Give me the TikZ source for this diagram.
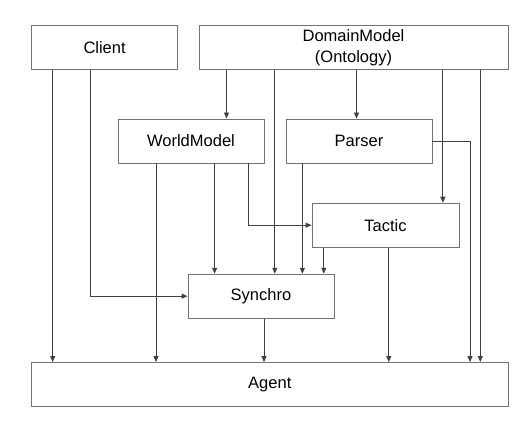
\documentclass[tikz,border=0pt]{standalone}
\usepackage{fontspec}
\setmainfont{Liberation Sans}
\usetikzlibrary{arrows.meta}
\begin{document}
\begin{tikzpicture}[x=1pt,y=-1pt,
  box/.style={draw=black!55,line width=0.9pt,fill=white,rectangle,inner sep=0pt,
    minimum height=44pt,align=center,font=\fontsize{16.5}{20.5}\selectfont},
  conn/.style={draw=black!75,line width=0.9pt,-{Triangle[length=6pt,width=5pt]}},
  plain/.style={draw=black!75,line width=0.9pt}]
\useasboundingbox (0,0) rectangle (530,422);
\node[box,minimum width=146pt] (client) at (104.6,47.6) {Client};
\node[box,minimum width=309pt] (domain) at (353.5,47.6) {DomainModel\\(Ontology)};
\node[box,minimum width=146pt] (world) at (191,141) {WorldModel};
\node[box,minimum width=146pt] (parser) at (359,141) {Parser};
\node[box,minimum width=147pt] (tactic) at (385.5,225.2) {Tactic};
\node[box,minimum width=146pt] (synchro) at (261,296.2) {Synchro};
\node[box,minimum width=476.4pt] (agent) at (269.8,384.5) {Agent};
% Client
\draw[conn] (client.south -| 52.7,0) -- (agent.north -| 52.7,0);
\draw[conn] (client.south -| 90.8,0) |- (synchro.west);
% DomainModel
\draw[conn] (domain.south -| 226.5,0) -- (world.north -| 226.5,0);
\draw[conn] (domain.south -| 274.8,0) -- (synchro.north -| 274.8,0);
\draw[conn] (domain.south -| 356.5,0) -- (parser.north -| 356.5,0);
\draw[conn] (domain.south -| 442.9,0) -- (tactic.north -| 442.9,0);
\draw[conn] (domain.south -| 480.3,0) -- (agent.north -| 480.3,0);
% Parser
\draw[conn] (parser.east) -| (agent.north -| 470,0);
\draw[conn] (parser.south -| 302.4,0) -- (synchro.north -| 302.4,0);
% WorldModel
\draw[conn] (world.south -| 156,0) -- (agent.north -| 156,0);
\draw[conn] (world.south -| 214.6,0) -- (synchro.north -| 214.6,0);
\draw[conn] (world.south -| 248,0) |- (tactic.west);
% Tactic
\draw[conn] (tactic.south -| 323.8,0) -- (synchro.north -| 323.8,0);
\draw[conn] (tactic.south -| 388.8,0) -- (agent.north -| 388.8,0);
% Synchro
\draw[conn] (synchro.south -| 264,0) -- (agent.north -| 264,0);
\end{tikzpicture}
\end{document}
